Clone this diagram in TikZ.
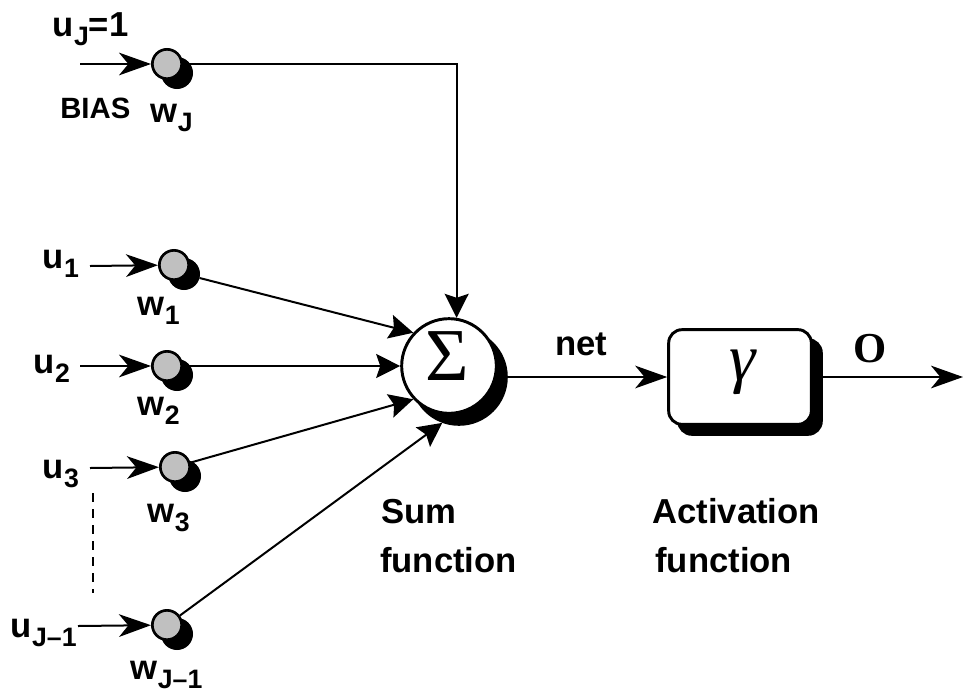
\documentclass[tikz,border=0pt]{standalone}
\usepackage{fontspec}
\setmainfont{Liberation Sans}[BoldFont={Liberation Sans Bold}]
\newfontfamily\greekserif{Liberation Serif}
\usetikzlibrary{arrows.meta}

\definecolor{wfill}{RGB}{192,192,192}

% symbol with a lowered subscript
\newcommand{\wsub}[2]{#1\hspace{0.5pt}\raisebox{-7pt}{\fontsize{20}{20}\selectfont #2}}

\begin{document}
\begin{tikzpicture}[x=0.75pt,y=-0.75pt,
  txt/.style={font=\fontsize{26}{30}\selectfont\bfseries, inner sep=0pt, anchor=base west},
  weight/.style={circle, draw, line width=2pt, fill=wfill, minimum size=22pt, inner sep=0pt},
  wshadow/.style={circle, fill=black, draw=black, line width=2pt, minimum size=22pt, inner sep=0pt},
  sumnode/.style={circle, draw, line width=2.2pt, fill=white, minimum size=71pt, inner sep=0pt},
  sumshadow/.style={circle, fill=black, draw=black, line width=2.2pt, minimum size=71pt, inner sep=0pt},
  actnode/.style={rectangle, rounded corners=10pt, draw, line width=2.2pt, fill=white, minimum width=107pt, minimum height=71pt, inner sep=0pt},
  actshadow/.style={rectangle, rounded corners=10pt, fill=black, draw=black, line width=2.2pt, minimum width=107pt, minimum height=71pt, inner sep=0pt},
  wire/.style={line width=1.5pt},
  intip/.style={-{Stealth[length=24pt,width=17pt,inset=7pt]}},
  sumtip/.style={-{Stealth[length=18pt,width=18pt,inset=3pt]}}
]
\useasboundingbox (0,0) rectangle (963,693);

% shadows
\node[wshadow] (Bs)  at (177,73)  {};
\node[wshadow] (c1s) at (184,274) {};
\node[wshadow] (c2s) at (177,375) {};
\node[wshadow] (c3s) at (185,476) {};
\node[wshadow] (c4s) at (177,634) {};
\node[sumshadow] (Ss) at (459,377) {};
\node[actshadow] (Gs) at (750,387) {};

% weights
\node[weight] (B)  at (167,64)  {};
\node[weight] (c1) at (174,265) {};
\node[weight] (c2) at (167,366) {};
\node[weight] (c3) at (175,467) {};
\node[weight] (c4) at (167,625) {};

% summation and activation
\node[sumnode] (S) at (449,366) {};
\node[inner sep=0pt, anchor=base, font=\greekserif\fontsize{56}{56}\selectfont] (sig) at (447,380) {Σ};
\node[actnode] (G) at (740,377) {};
\node[inner sep=0pt, anchor=base, font=\greekserif\itshape\fontsize{50}{50}\selectfont] (gam) at (743,380) {γ};

% input points
\coordinate (iB) at (80,64);
\coordinate (i1) at (90,266);
\coordinate (i2) at (80,366);
\coordinate (i3) at (90,468);
\coordinate (i4) at (78,626);
\coordinate (out) at (963,377);
\coordinate (d1) at (93,493);
\coordinate (d2) at (93,593);

% inputs
\draw[wire,intip] (iB) -- (B);
\draw[wire,intip] (i1) -- (c1);
\draw[wire,intip] (i2) -- (c2);
\draw[wire,intip] (i3) -- (c3);
\draw[wire,intip] (i4) -- (c4);
\draw[line width=0.9pt, dash pattern=on 7pt off 5pt] (d1) -- (d2);

% weighted connections into the sum
\draw[wire,sumtip] (B) -- (S.81 |- B) -- (S.81);
\draw[wire,sumtip] (c1s) -- (S.137);
\draw[wire,sumtip] (c2) -- (S);
\draw[wire,sumtip] (c3) -- (S.223);
\draw[wire,sumtip] (c4) -- (Ss.250);

% sum to activation to output
\draw[wire,intip] (Ss) -- (G);
\draw[wire,intip] (G -| Gs.east) -- (out);

% labels
\node[txt] (lB)  at (52,36)   {\wsub{u}{J}=1};
\node[txt, font=\fontsize{22}{26}\selectfont\bfseries] (lBi) at (60,118)  {BIAS};
\node[txt] (lwB) at (150,122) {\wsub{w}{J}};
\node[txt] (lu1) at (42,268)  {\wsub{u}{1}};
\node[txt] (lw1) at (137,315) {\wsub{w}{1}};
\node[txt] (lu2) at (33,373)  {\wsub{u}{2}};
\node[txt] (lw2) at (137,415) {\wsub{w}{2}};
\node[txt] (lu3) at (42,478)  {\wsub{u}{3}};
\node[txt] (lw3) at (147,522) {\wsub{w}{3}};
\node[txt] (lu4) at (10,637)  {\wsub{u}{J–1}};
\node[txt] (lw4) at (130,679) {\wsub{w}{J–1}};
\node[txt] (net) at (555,355) {net};
\node[txt, font=\greekserif\fontsize{32}{32}\selectfont\bfseries] (lO) at (853,362) {O};
\node[txt] (sum1) at (381,523) {Sum};
\node[txt] (sum2) at (380,572) {function};
\node[txt] (act1) at (652,523) {Activation};
\node[txt] (act2) at (655,572) {function};
\end{tikzpicture}
\end{document}
